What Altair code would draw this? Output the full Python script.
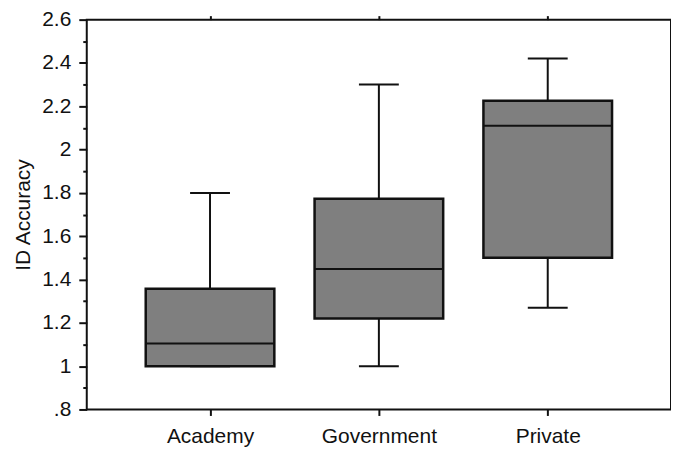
import altair as alt
import pandas as pd

categories = ["Academy", "Government", "Private"]
whisker_low = [1.0, 1.0, 1.27]
q1 = [1.0, 1.22, 1.50]
median = [1.105, 1.448, 2.11]
q3 = [1.357, 1.773, 2.225]
whisker_high = [1.80, 2.30, 2.42]

major_ticks = [0.8, 1.0, 1.2, 1.4, 1.6, 1.8, 2.0, 2.2, 2.4, 2.6]
minor_ticks = [0.9, 1.1, 1.3, 1.5, 1.7, 1.9, 2.1, 2.3, 2.5]
all_ticks = sorted(major_ticks + minor_ticks)

df = pd.DataFrame({
    "cat": categories,
    "lo": whisker_low,
    "q1": q1,
    "med": median,
    "q3": q3,
    "hi": whisker_high,
})

FONT = "Liberation Sans"
TXT = "#111111"
LINE = "#111111"

xscale = alt.Scale(type="point", padding=0.73, domain=categories)
yscale = alt.Scale(domain=[0.8, 2.6], nice=False, zero=False)

x_bottom = alt.X("cat:N", scale=xscale, sort=categories, title=None,
                 axis=alt.Axis(orient="bottom", domain=False, tickSize=6, tickWidth=2,
                               tickColor=LINE, labelFont=FONT, labelFontSize=21,
                               labelColor=TXT, labelPadding=10, labelAngle=0))
x_top = alt.X("cat:N", scale=xscale, sort=categories, title=None,
              axis=alt.Axis(orient="top", domain=False, tickSize=4, tickWidth=2,
                            tickColor=LINE, labels=False))
x_plain = alt.X("cat:N", scale=xscale, sort=categories, axis=None)

labexpr = "datum.value < 0.9 ? '.8' : toString(round(datum.value * 10) / 10)"

y_left = alt.Y("hi:Q", scale=yscale, title="ID Accuracy",
               axis=alt.Axis(orient="left", values=major_ticks, domain=False, grid=False,
                             tickSize=8, tickWidth=2, tickColor=LINE,
                             labelFont=FONT, labelFontSize=21, labelColor=TXT,
                             labelPadding=8, labelExpr=labexpr,
                             titleFont=FONT, titleFontSize=21, titleFontWeight="normal",
                             titleColor=TXT, titlePadding=8))
y_left_minor = alt.Y("q3:Q", scale=yscale, title=None,
                     axis=alt.Axis(orient="left", values=minor_ticks, domain=False, grid=False,
                                   tickSize=4, tickWidth=2, tickColor=LINE, labels=False))
y_right = alt.Y("q3:Q", scale=yscale, title=None,
                axis=alt.Axis(orient="right", values=all_ticks, domain=False, grid=False,
                              tickSize=5, tickWidth=2, tickColor=LINE, labels=False))
y_none_med = alt.Y("med:Q", scale=yscale, axis=None)
y_none_lo = alt.Y("lo:Q", scale=yscale, axis=None)

base = alt.Chart(df)

whisker = base.mark_rule(color=LINE, strokeWidth=2).encode(
    x=x_bottom, y=y_left, y2="lo:Q")

box = base.mark_bar(size=129, fill="#7f7f7f", stroke=LINE, strokeWidth=2.5).encode(
    x=x_top, y=y_left_minor, y2="q1:Q")

box_right = base.mark_bar(size=129, opacity=0).encode(
    x=x_plain, y=y_right, y2="q1:Q")

med_tick = base.mark_tick(size=129, thickness=2, color=LINE, opacity=1).encode(
    x=x_plain, y=y_none_med)

cap_hi = base.mark_tick(size=40, thickness=2, color=LINE, opacity=1).encode(
    x=x_plain, y=alt.Y("hi:Q", scale=yscale, axis=None))

cap_lo = base.mark_tick(size=40, thickness=2, color=LINE, opacity=1).encode(
    x=x_plain, y=y_none_lo)

chart = alt.layer(whisker, box, box_right, med_tick, cap_hi, cap_lo).resolve_axis(
    x="independent", y="independent"
).properties(
    width=586, height=391,
    autosize=alt.AutoSizeParams(type="none"),
    padding={"left": 79, "top": 11, "right": 0, "bottom": 39},
    background="white",
).configure_view(
    stroke=LINE, strokeWidth=2
)

chart.save("out.html", embed_options={"renderer": "svg", "actions": False})
